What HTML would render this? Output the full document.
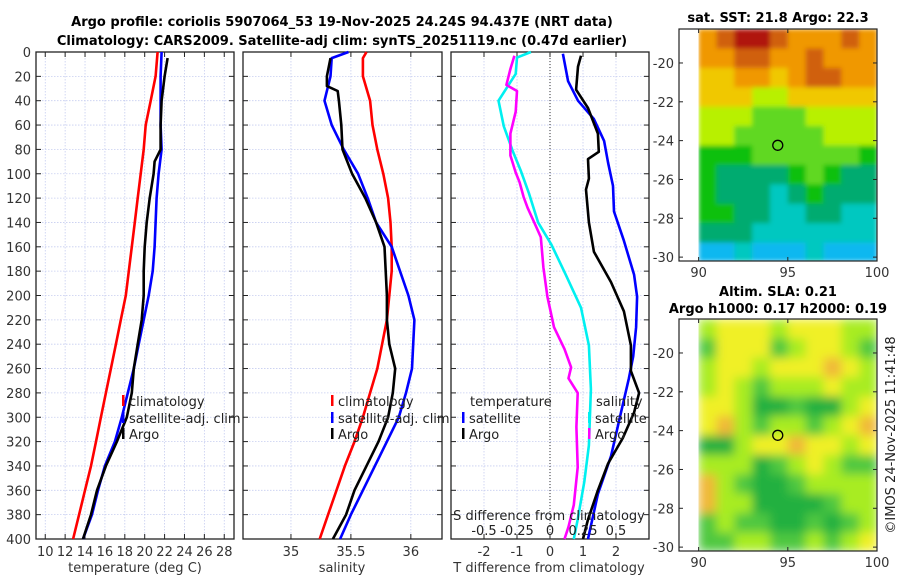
<!DOCTYPE html>
<html><head><meta charset="utf-8"><style>
html,body{margin:0;padding:0;background:#fff;}
svg{display:block;font-family:"DejaVu Sans","Liberation Sans",sans-serif;}
</style></head><body>
<svg id="fig" width="900" height="580" viewBox="0 0 900 580" xmlns="http://www.w3.org/2000/svg">
<defs>
<filter id="blurSst" x="0" y="0" width="1" height="1"><feGaussianBlur stdDeviation="2.5" edgeMode="duplicate"/></filter>
<filter id="blurSla" x="0" y="0" width="1" height="1"><feGaussianBlur stdDeviation="5" edgeMode="duplicate"/></filter>
</defs>
<text x="342" y="26" text-anchor="middle" font-size="13" font-weight="bold">Argo profile: coriolis 5907064_53 19-Nov-2025 24.24S 94.437E (NRT data)</text>
<text x="342" y="45" text-anchor="middle" font-size="13" font-weight="bold">Climatology: CARS2009. Satellite-adj clim: synTS_20251119.nc (0.47d earlier)</text>
<text x="778" y="22" text-anchor="middle" font-size="13" font-weight="bold">sat. SST: 21.8 Argo: 22.3</text>
<text x="778" y="296" text-anchor="middle" font-size="13" font-weight="bold">Altim. SLA: 0.21</text>
<text x="778" y="313" text-anchor="middle" font-size="13" font-weight="bold">Argo h1000: 0.17 h2000: 0.19</text>
<text transform="translate(895,435) rotate(-90)" text-anchor="middle" font-size="13" fill="#222">©IMOS 24-Nov-2025 11:41:48</text>
<g id="plots"></g>
</svg>
<script>
const depthT = [0,20,40,60,80,100,120,140,160,180,200,220,240,260,280,300,320,340,360,380,400];
const tempClim = [21.3,21.1,20.6,20.1,19.9,19.6,19.3,19.0,18.7,18.4,18.1,17.6,17.1,16.6,16.1,15.6,15.1,14.6,14.0,13.4,12.8];
const tempSat = [21.7,21.6,21.6,21.6,21.7,21.4,21.2,21.1,21.0,20.8,20.4,19.9,19.4,18.9,18.3,17.7,17.0,16.0,15.3,14.7,13.8];
const depthArgoT = [5,20,40,60,80,90,100,120,140,160,180,200,220,240,260,280,300,320,340,360,380,400];
const tempArgo = [22.3,22.0,21.7,21.6,21.6,21.0,20.9,20.5,20.2,20.0,19.9,19.9,19.7,19.3,18.9,18.7,18.2,17.2,16.1,15.2,14.6,13.8];
const depthS = [0,5,20,40,60,80,100,120,140,160,180,200,220,240,260,280,300,320,340,360,380,400];
const salClim = [35.63,35.60,35.60,35.66,35.68,35.72,35.77,35.81,35.83,35.84,35.84,35.82,35.80,35.76,35.72,35.66,35.60,35.53,35.45,35.38,35.31,35.24];
const salSat = [35.48,35.34,35.33,35.28,35.34,35.44,35.56,35.64,35.71,35.84,35.91,35.98,36.03,36.02,36.01,35.96,35.90,35.80,35.70,35.60,35.50,35.41];
const depthArgoS = [5,20,28,32,40,60,80,100,120,140,160,180,200,220,240,260,280,300,320,340,360,380,400];
const salArgo = [35.33,35.30,35.30,35.39,35.40,35.42,35.43,35.51,35.62,35.71,35.78,35.79,35.80,35.80,35.82,35.87,35.85,35.81,35.73,35.63,35.53,35.46,35.35];
const depthSatTd = [1.5,24,40,55,73,91,110,131,155,183,201,226,250,268,296,332,363,400];
const satTdiff = [0.39,0.55,0.85,1.33,1.64,1.76,1.91,1.94,2.24,2.55,2.64,2.61,2.52,2.39,2.15,1.85,1.45,1.15];
const depthArgoTd = [3,12,31,46,67,82,88,104,113,140,164,189,213,241,262,280,296,317,338,360,384,400];
const argoTdiff = [0.94,0.85,0.79,1.15,1.45,1.48,1.15,1.18,1.09,1.18,1.33,1.85,2.24,2.45,2.45,2.70,2.55,2.21,1.76,1.45,1.15,1.0];
const depthSatSd = [0,4.6,18,40,61,82,98,116,140,158,183,210,241,277,323,353,384,400];
const satSdiff = [-0.145,-0.25,-0.26,-0.39,-0.35,-0.28,-0.22,-0.16,-0.09,0.01,0.12,0.235,0.295,0.31,0.295,0.26,0.21,0.18];
const depthArgoSd = [3,14,27,32,49,67,85,99,107,119,128,140,152,177,201,226,244,259,268,280,308,341,372,390,400];
const argoSdiff = [-0.27,-0.30,-0.33,-0.25,-0.26,-0.30,-0.30,-0.26,-0.23,-0.20,-0.17,-0.12,-0.07,-0.05,-0.02,0.03,0.11,0.16,0.14,0.21,0.20,0.21,0.18,0.14,0.11];
const depthTicks = [0,20,40,60,80,100,120,140,160,180,200,220,240,260,280,300,320,340,360,380,400];
const tempTicks = [10,12,14,16,18,20,22,24,26,28];
const salTicks = [35,35.5,36];
const salTickLabels = ["35","35.5","36"];
const tdTicks = [-2,-1,0,1,2];
const sdTicks = [-0.5,-0.25,0,0.25,0.5];
const sdTickLabels = ["-0.5","-0.25","0","0.25","0.5"];
const sstGrid = [
[8,9,10,10,9,8,8,8,9,8],[8,8,9,9,8,8,9,8,8,8],[7,7,8,8,7,8,9,9,8,8],[7,7,7,6,6,7,7,7,7,7],
[6,6,6,5,5,5,6,6,6,6],[6,6,5,5,5,5,5,6,6,6],[4,4,4,5,5,5,5,5,5,4],[4,3,3,3,3,4,5,4,3,3],
[4,3,3,3,2,3,4,3,3,3],[4,4,3,3,2,2,3,3,2,2],[3,3,3,2,2,2,2,2,2,2],[1,1,2,1,1,1,2,1,1,1]];
const slaGrid = [
[2,3,3,3,2,3,3,3,2,2],[1,3,3,3,1,2,3,3,2,1],[2,3,3,2,3,3,3,4,3,2],[2,3,2,1,2,2,2,3,2,2],
[3,3,2,0,0,1,0,0,2,3],[3,4,2,1,2,2,1,2,3,4],[0,0,2,3,3,4,3,3,2,3],[2,2,2,0,1,2,3,2,1,1],
[4,2,1,0,0,1,2,2,2,2],[4,2,2,0,0,0,0,1,2,2],[1,2,1,1,0,0,1,0,1,2],[1,1,2,2,1,1,2,1,2,3]];
const argoLon = 94.437, argoLat = -24.24;
const latTicks = [-20,-22,-24,-26,-28,-30];
const lonTicks = [90,95,100];

const sstColors = ["#1e78ff","#10b8f0","#00c8c0","#00ab70","#10c010","#60d820","#b8f000","#f0c800","#f09800","#d06010","#b01808"];
const slaColors = ["#20b040","#50c840","#a8ec20","#f0f028","#f0b838"];

const NS="http://www.w3.org/2000/svg";
const root=document.getElementById('plots');
function mk(tag,attrs,parent){const e=document.createElementNS(NS,tag);for(const k in attrs)e.setAttribute(k,attrs[k]);(parent||root).appendChild(e);return e;}

const Y0=52,Y1=539;
const yD=d=>Y0+(d/400)*(Y1-Y0);

function panel(name,x0,x1,xmin,xmax){
  const g=mk('g',{});
  
  
  const sx=v=>x0+(v-xmin)/(xmax-xmin)*(x1-x0);
  return {g,sx,x0,x1};
}
function gridAndFrame(p,xt,xlab){
  depthTicks.forEach(d=>{const l=mk('line',{x1:p.x0,x2:p.x1,y1:yD(d),y2:yD(d),stroke:'#c6cdf0','stroke-width':0.8,'stroke-dasharray':'1.5,1.5'},p.g);
    
    
    mk('line',{x1:p.x0,x2:p.x0+5,y1:yD(d),y2:yD(d),stroke:'#222'},p.g);
    mk('line',{x1:p.x1-5,x2:p.x1,y1:yD(d),y2:yD(d),stroke:'#222'},p.g);});
  xt.forEach((v,i)=>{const x=p.sx(v);const l=mk('line',{x1:x,x2:x,y1:Y0,y2:Y1,stroke:'#c6cdf0','stroke-width':0.8,'stroke-dasharray':'1.5,1.5'},p.g);
    
    
    mk('line',{x1:x,x2:x,y1:Y0,y2:Y0+5,stroke:'#222'},p.g);
    mk('line',{x1:x,x2:x,y1:Y1-5,y2:Y1,stroke:'#222'},p.g);
    if(xlab){const t=mk('text',{x:x,y:556,'text-anchor':'middle','font-size':13,fill:'#333'},p.g);t.textContent=xlab[i];
      
      }});
  mk('rect',{x:p.x0,y:Y0,width:p.x1-p.x0,height:Y1-Y0,fill:'none',stroke:'#222','stroke-width':1.3},p.g);
}
function series(p,vals,deps,color,sx,name){
  const pts=vals.map((v,i)=>sx(v).toFixed(1)+','+yD(deps[i]).toFixed(1)).join(' ');
  const l=mk('polyline',{points:pts,fill:'none',stroke:color,'stroke-width':2.6,'stroke-linejoin':'round'},p.g);
  
  
}
function legendEntry(g,x,y,color,label,name){
  mk('rect',{x:x-1,y:y-11,width:2.5,height:11,fill:color},g);
  const t=mk('text',{x:x+6,y:y,'font-size':13,fill:'#222'},g);t.textContent=label;
  
  
}

const p1=panel('temperature-panel',36,234,9.07,28.98);
gridAndFrame(p1,tempTicks,tempTicks.map(String));
depthTicks.forEach(d=>{const t=mk('text',{x:31,y:yD(d)+5,'text-anchor':'end','font-size':13,fill:'#333'});t.textContent=d;
  
  });
series(p1,tempClim,depthT,'#ff0000',p1.sx,'temp-climatology-line');
series(p1,tempSat,depthT,'#0000ff',p1.sx,'temp-satellite-line');
series(p1,tempArgo,depthArgoT,'#000000',p1.sx,'temp-argo-line');
legendEntry(p1.g,123,406,'#ff0000','climatology','legend-climatology');
legendEntry(p1.g,123,423,'#0000ff','satellite-adj. clim','legend-satellite-adj');
legendEntry(p1.g,123,439,'#000000','Argo','legend-argo');
{const t=mk('text',{x:135,y:572,'text-anchor':'middle','font-size':13,fill:'#333'});t.textContent='temperature (deg C)';

}

const p2=panel('salinity-panel',243,442,34.6,36.26);
gridAndFrame(p2,salTicks,salTickLabels);
series(p2,salClim,depthS,'#ff0000',p2.sx,'sal-climatology-line');
series(p2,salSat,depthS,'#0000ff',p2.sx,'sal-satellite-line');
series(p2,salArgo,depthArgoS,'#000000',p2.sx,'sal-argo-line');
legendEntry(p2.g,332,406,'#ff0000','climatology','legend-climatology');
legendEntry(p2.g,332,423,'#0000ff','satellite-adj. clim','legend-satellite-adj');
legendEntry(p2.g,332,439,'#000000','Argo','legend-argo');
{const t=mk('text',{x:342,y:572,'text-anchor':'middle','font-size':13,fill:'#333'});t.textContent='salinity';

}

const p3=panel('difference-panel',451,649,-3,3);
const sxS=v=>p3.sx(v*4);
gridAndFrame(p3,tdTicks,tdTicks.map(String));
{const l=mk('line',{x1:p3.sx(0),x2:p3.sx(0),y1:Y0,y2:Y1,stroke:'#333','stroke-width':1,'stroke-dasharray':'1,2'},p3.g);

}
series(p3,satSdiff,depthSatSd,'#00f0f0',sxS,'sal-diff-satellite-line');
series(p3,argoSdiff,depthArgoSd,'#ff00ff',sxS,'sal-diff-argo-line');
series(p3,satTdiff,depthSatTd,'#0000ff',p3.sx,'temp-diff-satellite-line');
series(p3,argoTdiff,depthArgoTd,'#000000',p3.sx,'temp-diff-argo-line');
{const t=mk('text',{x:470,y:406,'font-size':13,fill:'#222'},p3.g);t.textContent='temperature';

}
legendEntry(p3.g,463,423,'#0000ff','satellite','legend-temp-satellite');
legendEntry(p3.g,463,439,'#000000','Argo','legend-temp-argo');
{const t=mk('text',{x:596,y:406,'font-size':13,fill:'#222'},p3.g);t.textContent='salinity';

}
legendEntry(p3.g,589,423,'#00f0f0','satellite','legend-sal-satellite');
legendEntry(p3.g,589,439,'#ff00ff','Argo','legend-sal-argo');
{const t=mk('text',{x:549,y:520,'text-anchor':'middle','font-size':13,fill:'#222'},p3.g);t.textContent='S difference from climatology';

}
sdTicks.forEach((v,i)=>{const t=mk('text',{x:sxS(v),y:535,'text-anchor':'middle','font-size':13,fill:'#222'},p3.g);t.textContent=sdTickLabels[i];

});
{const t=mk('text',{x:549,y:572,'text-anchor':'middle','font-size':13,fill:'#333'});t.textContent='T difference from climatology';

}

function drawMap(name,grid,colors,top,bottom,filt){
  const g=mk('g',{});
  
  
  const bx0=679,bx1=877;
  const lonMin=88.9,lonMax=100, latTop=-18.25, latBot=-30.2;
  const sx=v=>bx0+(v-lonMin)/(lonMax-lonMin)*(bx1-bx0);
  const sy=v=>top+(latTop-v)/(latTop-latBot)*(bottom-top);
  const cells=mk('g',{filter:'url(#'+filt+')'},g);
  grid.forEach((row,r)=>row.forEach((c,k)=>{
    const la=latTop-r, lb=Math.max(latTop-r-1,latBot);
    const x=sx(90+k),w=sx(91+k)-x+0.5,y=sy(la),h=sy(lb)-y+0.5;
    const rc=mk('rect',{x:x,y:y,width:w,height:h,fill:colors[c]},cells);
    
    
  }));
  mk('rect',{x:bx0,y:top,width:bx1-bx0,height:bottom-top,fill:'none',stroke:'#222','stroke-width':1.2},g);
  latTicks.forEach(v=>{const y=sy(v);
    mk('line',{x1:bx0,x2:bx0+4,y1:y,y2:y,stroke:'#222'},g);mk('line',{x1:bx1-4,x2:bx1,y1:y,y2:y,stroke:'#222'},g);
    const t=mk('text',{x:bx0-5,y:y+5,'text-anchor':'end','font-size':13,fill:'#333'},g);t.textContent=v;
    
    });
  lonTicks.forEach(v=>{const x=sx(v);
    mk('line',{x1:x,x2:x,y1:bottom-4,y2:bottom,stroke:'#222'},g);mk('line',{x1:x,x2:x,y1:top,y2:top+4,stroke:'#222'},g);
    const t=mk('text',{x:x,y:bottom+16,'text-anchor':'middle','font-size':13,fill:'#333'},g);t.textContent=v;
    
    });
  const c=mk('circle',{cx:sx(argoLon),cy:sy(argoLat),r:5,fill:'none',stroke:'#000','stroke-width':1.3},g);
  
  
}
drawMap('sst-map',sstGrid,sstColors,29,261,'blurSst');
drawMap('sla-map',slaGrid,slaColors,319,551,'blurSla');
</script>
</body></html>
